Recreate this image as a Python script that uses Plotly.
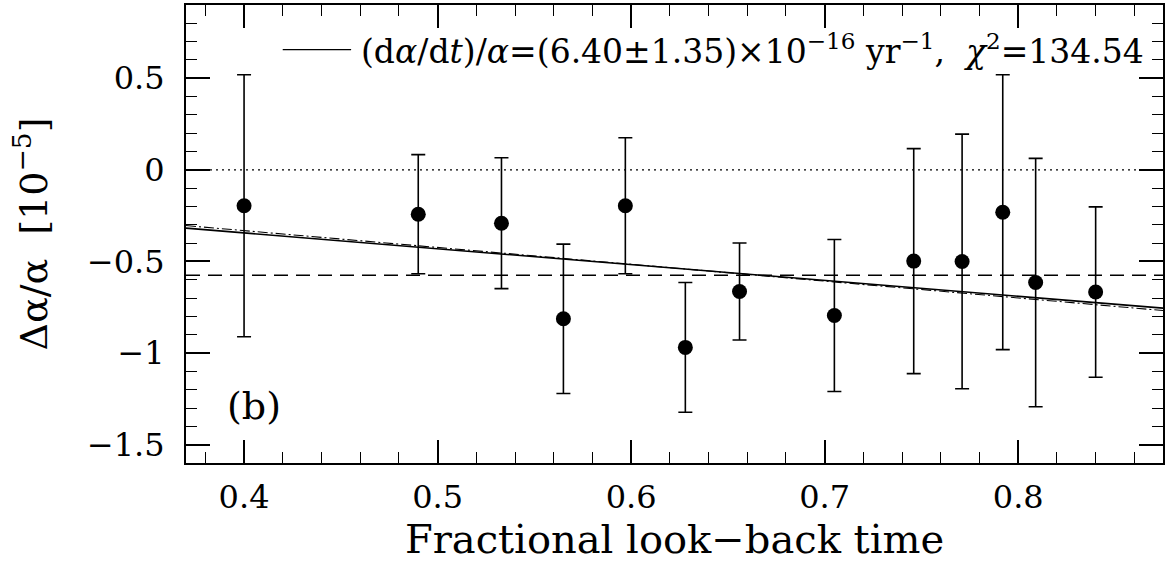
import plotly.graph_objects as go

# ---- data ----
lookback = [0.400, 0.490, 0.533, 0.565, 0.597, 0.628, 0.656, 0.705, 0.746, 0.771, 0.792, 0.809, 0.840]
dalpha = [-0.196, -0.242, -0.291, -0.813, -0.196, -0.969, -0.664, -0.795, -0.498, -0.500, -0.231, -0.615, -0.667]
dalpha_err = [0.715, 0.325, 0.357, 0.408, 0.371, 0.354, 0.265, 0.415, 0.614, 0.695, 0.750, 0.678, 0.465]

line_x = [0.37, 0.875]
fit_solid_y = [-0.318, -0.755]
fit_dashdot_y = [-0.304, -0.768]
zero_y = [0.0, 0.0]
mean_y = [-0.575, -0.575]

x_range = [0.37, 0.8748]
y_range = [-1.6, 0.9]

FONT = "DejaVu Serif"

fig = go.Figure()

fig.add_trace(go.Scatter(x=line_x, y=zero_y, mode="lines",
                         line=dict(color="black", width=1.3, dash="2px,4px"),
                         showlegend=False, hoverinfo="skip"))
fig.add_trace(go.Scatter(x=line_x, y=mean_y, mode="lines",
                         line=dict(color="black", width=1.5, dash="14px,8px"),
                         showlegend=False, hoverinfo="skip"))
fig.add_trace(go.Scatter(x=line_x, y=fit_dashdot_y, mode="lines",
                         line=dict(color="black", width=1.1, dash="10px,3px,2px,3px"),
                         showlegend=False, hoverinfo="skip"))
fig.add_trace(go.Scatter(x=line_x, y=fit_solid_y, mode="lines",
                         line=dict(color="black", width=1.6),
                         showlegend=False, hoverinfo="skip"))
fig.add_trace(go.Scatter(x=lookback, y=dalpha, mode="markers",
                         marker=dict(color="black", size=15),
                         error_y=dict(type="data", array=dalpha_err, symmetric=True,
                                      color="black", thickness=1.6, width=7),
                         showlegend=False))

# legend key (decoration) and text
fig.add_shape(type="line", xref="paper", yref="paper",
              x0=0.099, x1=0.169, y0=0.9025, y1=0.9025,
              line=dict(color="black", width=1.4))
fig.add_annotation(xref="paper", yref="paper", x=0.177, y=0.9025,
                   xanchor="left", yanchor="middle", showarrow=False,
                   text="(d<i>α</i>/d<i>t</i>)/<i>α</i>=(6.40±1.35)×10<sup>−16</sup> yr<sup>−1</sup>,  <i>χ</i><sup>2</sup>=134.54",
                   font=dict(family=FONT, size=33, color="black"))
fig.add_annotation(x=0.405, y=-1.29, xref="x", yref="y", showarrow=False,
                   text="(b)", font=dict(family=FONT, size=38, color="black"))

axis_common = dict(showgrid=False, zeroline=False, showline=True, linecolor="black",
                   linewidth=2, ticks="inside", tickcolor="black", tickwidth=1.5,
                   tickfont=dict(family=FONT, size=32, color="black"))

fig.update_xaxes(range=x_range, tick0=0.4, dtick=0.1, ticklen=23, mirror="all",
                 minor=dict(dtick=0.02, ticklen=11, ticks="inside", tickcolor="black", tickwidth=1.2),
                 ticklabelstandoff=5,
                 title=dict(text="Fractional look−back time", font=dict(family=FONT, size=40, color="black"),
                            standoff=2),
                 **axis_common)
fig.update_yaxes(range=y_range, tick0=0, dtick=0.5, ticklen=24, mirror="allticks",
                 minor=dict(dtick=0.1, ticklen=11, ticks="inside", tickcolor="black", tickwidth=1.2),
                 ticklabelstandoff=13,
                 title=dict(text="Δα/α  [10<sup>−5</sup>]", font=dict(family=FONT, size=38, color="black"),
                            standoff=28),
                 **axis_common)

fig.update_layout(width=1165, height=564, margin=dict(l=186, r=0, t=5, b=101),
                  plot_bgcolor="white", paper_bgcolor="white", showlegend=False)

fig.write_html("out.html", config={"displayModeBar": False},
               post_script="document.body.style.margin='0px';document.body.style.overflow='hidden';")
